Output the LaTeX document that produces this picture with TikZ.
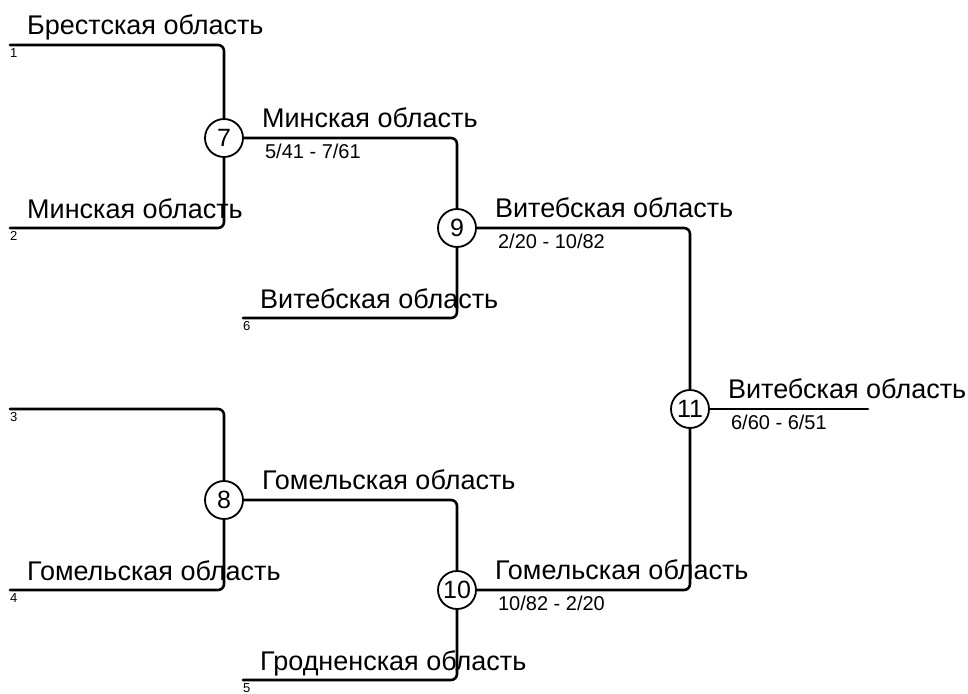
\documentclass[tikz,border=0pt]{standalone}
\usepackage{fontspec}
\setmainfont{Liberation Sans}
\begin{document}
\begin{tikzpicture}[x=1pt, y=-1pt, line join=round, line cap=round,
    match/.style={circle, draw, line width=1.8pt, minimum size=38pt, inner sep=0pt, fill=white, font=\fontsize{25}{27}\selectfont},
    wire/.style={line width=2.6pt, rounded corners=6pt},
    team/.style={anchor=base west, inner sep=0pt, font=\fontsize{27}{30}\selectfont},
    score/.style={anchor=base west, inner sep=0pt, font=\fontsize{20}{22}\selectfont},
    seed/.style={anchor=north west, inner sep=0pt, font=\fontsize{13}{14}\selectfont}]

    \useasboundingbox (0,0) rectangle (968,693);

    % Départs des équipes
    \coordinate (s1) at (10,45);
    \coordinate (s2) at (10,228);
    \coordinate (s3) at (10,409);
    \coordinate (s4) at (10,590);
    \coordinate (s6) at (243,318);
    \coordinate (s5) at (243,680);
    \coordinate (e11) at (868,409);

    % Matchs
    \node[match] (m7) at (224,138) {7};
    \node[match] (m8) at (224,500) {8};
    \node[match] (m9) at (457,228) {9};
    \node[match] (m10) at (457,590) {10};
    \node[match] (m11) at (690,409) {11};

    % Liaisons
    \draw[wire] (s1) -| (m7);
    \draw[wire] (s2) -| (m7);
    \draw[wire] (m7) -| (m9);
    \draw[wire] (s6) -| (m9);
    \draw[wire] (m9) -| (m11);
    \draw[wire] (s3) -| (m8);
    \draw[wire] (s4) -| (m8);
    \draw[wire] (m8) -| (m10);
    \draw[wire] (s5) -| (m10);
    \draw[wire] (m10) -| (m11);
    \draw[wire] (m11) -- (e11);

    % Numéros
    \foreach \s in {1,...,6} {
        \node[seed] (n\s) at ([yshift=-3pt]s\s) {\s};
    }

    % Noms au départ
    \foreach \s/\t in {1/Брестская область, 2/Минская область, 4/Гомельская область, 5/Гродненская область, 6/Витебская область} {
        \node[team] (t\s) at ([xshift=17pt, yshift=10pt]s\s) {\t};
    }

    % Vainqueurs et scores
    \node[team] (w7) at ([xshift=18pt, yshift=11pt]m7.east) {Минская область};
    \node[score] (r7) at ([xshift=21pt, yshift=-20pt]m7.east) {5/41 - 7/61};
    \node[team] (w8) at ([xshift=18pt, yshift=11pt]m8.east) {Гомельская область};
    \node[team] (w9) at ([xshift=18pt, yshift=11pt]m9.east) {Витебская область};
    \node[score] (r9) at ([xshift=21pt, yshift=-20pt]m9.east) {2/20 - 10/82};
    \node[team] (w10) at ([xshift=18pt, yshift=11pt]m10.east) {Гомельская область};
    \node[score] (r10) at ([xshift=21pt, yshift=-20pt]m10.east) {10/82 - 2/20};
    \node[team] (w11) at ([xshift=18pt, yshift=11pt]m11.east) {Витебская область};
    \node[score] (r11) at ([xshift=21pt, yshift=-20pt]m11.east) {6/60 - 6/51};

\end{tikzpicture}
\end{document}
